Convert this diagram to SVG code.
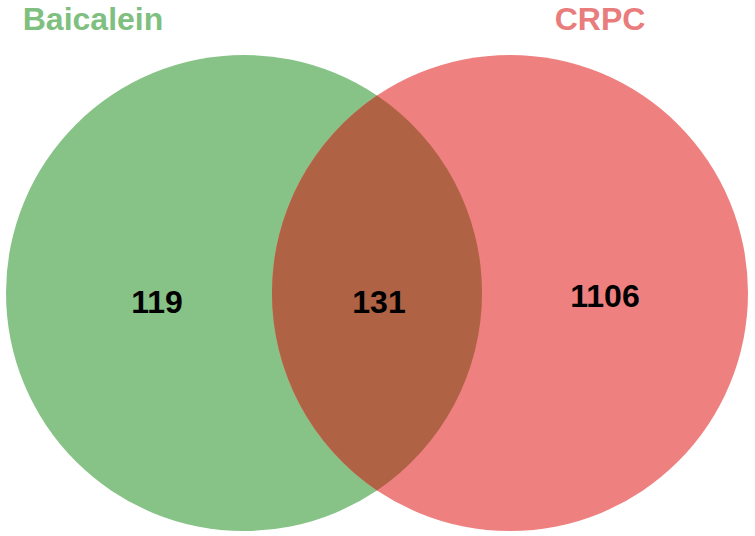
<svg xmlns="http://www.w3.org/2000/svg" width="755" height="536" viewBox="0 0 755 536">
<style>
.title{font-family:"Liberation Sans",Arial,sans-serif;font-weight:bold;font-size:32px;text-anchor:middle}
.num{font-family:"Liberation Sans",Arial,sans-serif;font-weight:bold;font-size:32px;text-anchor:middle;fill:#000}
</style>
<rect width="755" height="536" fill="#ffffff"/>
<g id="baicalein">
<circle cx="244" cy="293" r="238" fill="#87c387"/>
<text class="title" x="93" y="30" fill="#7fbf7f">Baicalein</text>
<text class="num" x="157" y="313">119</text>
</g>
<g id="crpc">
<circle cx="510" cy="293" r="238" fill="#ef8080"/>
<text class="title" x="600" y="30" fill="#e97c7c">CRPC</text>
<text class="num" x="605" y="307">1106</text>
</g>
<g id="overlap">
<path d="M377,95.6 A238,238 0 0,1 377,490.4 A238,238 0 0,1 377,95.6 Z" fill="#b06244"/>
<text class="num" x="379" y="313">131</text>
</g>
<g id="connectors"/>
</svg>
